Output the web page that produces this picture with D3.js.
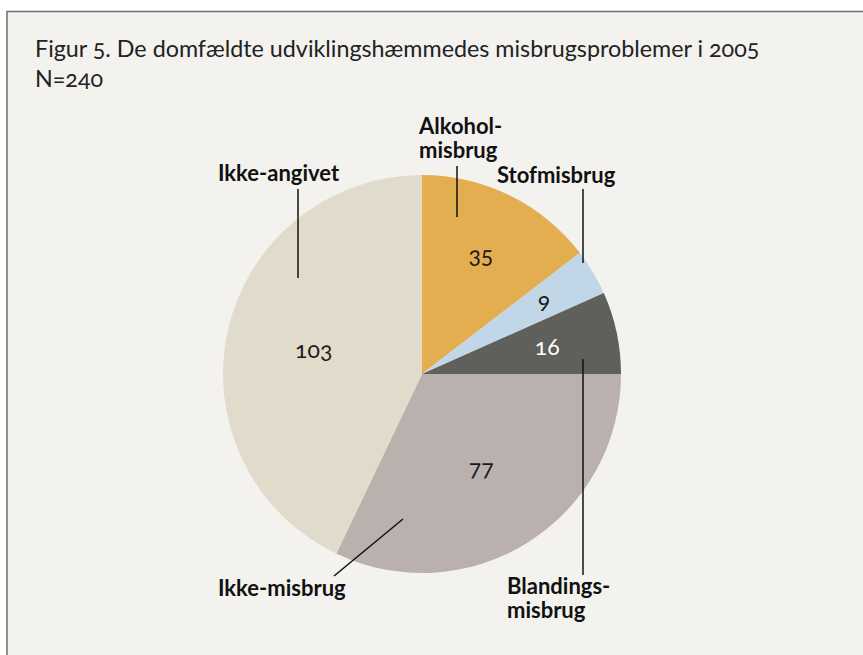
<!DOCTYPE html>
<html>
    <head>
        <meta charset="utf-8">
        <title>Figur 5</title>
        <script type="text/javascript" src="https://cdn.jsdelivr.net/npm/d3@7/dist/d3.min.js"></script>
        <style>
            body { margin: 0; background: #ffffff; }
            text { font-family: Lato, "Open Sans", sans-serif; font-variant-numeric: oldstyle-nums; }
        </style>
    </head>
    <body>
        <script type="text/javascript">
            // data
            var categories = ["Alkoholmisbrug", "Stofmisbrug", "Blandingsmisbrug", "Ikke-misbrug", "Ikke-angivet"];
            var values = [35, 9, 16, 77, 103];
            var labelLines = [["Alkohol-", "misbrug"], ["Stofmisbrug"], ["Blandings-", "misbrug"], ["Ikke-misbrug"], ["Ikke-angivet"]];
            var colors = ["#e3ae4f", "#c1d7e8", "#5f605b", "#bab1ae", "#e1dbcc"];
            var valueColors = ["#1a1a1a", "#1a1a1a", "#ffffff", "#1a1a1a", "#1a1a1a"];

            // layout
            var W = 863, H = 655;
            var cx = 422, cy = 374, R = 199;
            var valueRadius = [133, 142, 128, 111, 111];
            // name label: anchor x, first baseline y, line [x1,y1,x2,y2]
            var nameLayout = [
                {x: 419, y: 134, line: [457, 166, 457, 217]},
                {x: 497, y: 183, line: [583, 189, 583, 263]},
                {x: 507, y: 594, line: [583, 359, 583, 575]},
                {x: 218, y: 596, line: [403, 519, 334, 576]},
                {x: 218, y: 181, line: [298, 189, 298, 278]}
            ];
            var lineGap = 24;

            var svg = d3.select("body").append("svg").attr("width", W).attr("height", H);

            svg.append("rect").attr("x", 7).attr("y", 11).attr("width", W - 7).attr("height", H - 11)
                .attr("fill", "#f3f2ee");
            svg.append("path").attr("d", "M7," + H + " V11.5 H" + W)
                .attr("fill", "none").attr("stroke", "#6e6d68").attr("stroke-width", 1.5);

            svg.append("text").attr("x", 35).attr("y", 57)
                .attr("font-size", 23.3).attr("fill", "#222")
                .text("Figur 5. De domfældte udviklingshæmmedes misbrugsproblemer i 2005");
            svg.append("text").attr("x", 35).attr("y", 87)
                .attr("font-size", 23.3).attr("fill", "#222")
                .text("N=240");

            var pie = d3.pie().sort(null).value(function(d) { return d; });
            var arcs = pie(values);
            var arc = d3.arc().innerRadius(0).outerRadius(R);

            var g = svg.append("g").attr("transform", "translate(" + cx + "," + cy + ")");
            g.selectAll("path.slice").data(arcs).enter().append("path")
                .attr("class", "slice")
                .attr("d", arc)
                .attr("fill", function(d, i) { return colors[i]; });

            g.selectAll("text.val").data(arcs).enter().append("text")
                .attr("class", "val")
                .attr("transform", function(d, i) {
                    var c = d3.arc().innerRadius(valueRadius[i]).outerRadius(valueRadius[i]).centroid(d);
                    return "translate(" + c[0] + "," + c[1] + ")";
                })
                .attr("text-anchor", "middle").attr("dy", "0.35em")
                .attr("font-size", 23)
                .attr("fill", function(d, i) { return valueColors[i]; })
                .text(function(d) { return d.data; });

            nameLayout.forEach(function(p, i) {
                svg.append("line")
                    .attr("x1", p.line[0]).attr("y1", p.line[1])
                    .attr("x2", p.line[2]).attr("y2", p.line[3])
                    .attr("stroke", "#111").attr("stroke-width", 1.5);
                var t = svg.append("text").attr("x", p.x).attr("y", p.y)
                    .attr("font-size", 22).attr("font-weight", "bold").attr("fill", "#111");
                labelLines[i].forEach(function(s, k) {
                    t.append("tspan").attr("x", p.x).attr("dy", k == 0 ? 0 : lineGap).text(s);
                });
            });
        </script>
    </body>
</html>
